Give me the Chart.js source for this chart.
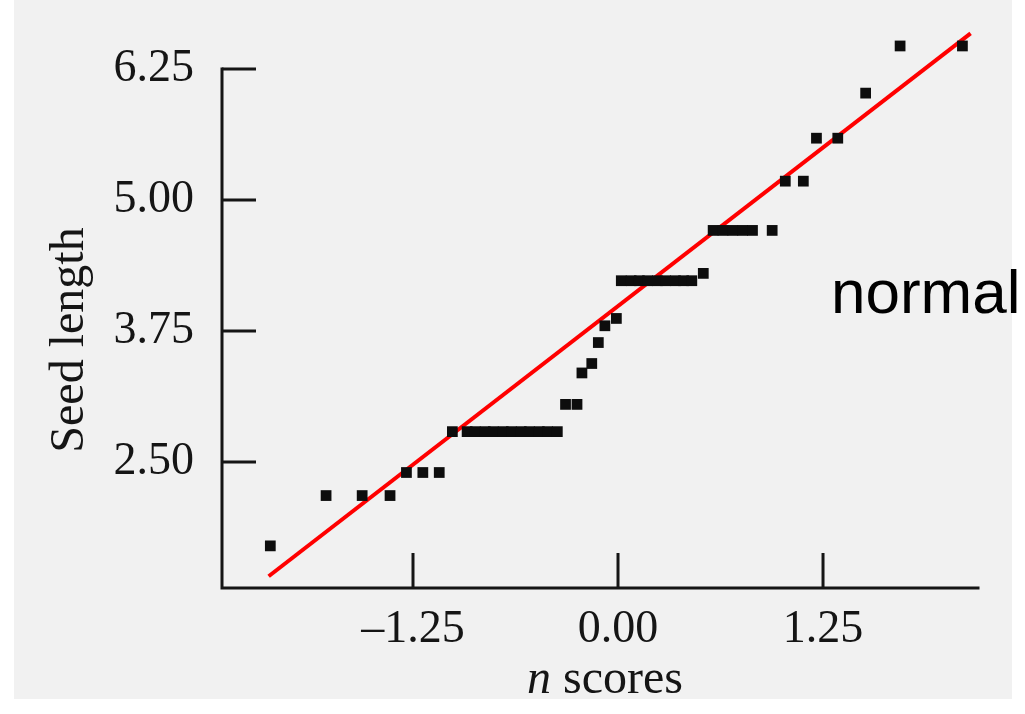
<!DOCTYPE html>
<html><head><meta charset="utf-8">
<script src="https://cdn.jsdelivr.net/npm/chart.js@4.4.1/dist/chart.umd.min.js"></script>
<style>html,body{margin:0;padding:0;background:#fff;}canvas{display:block;}</style>
</head><body>
<canvas id="c" width="1025" height="714"></canvas>
<script>
// ---- data ----
const nScores = [-2.12, -1.78, -1.56, -1.39, -1.29, -1.19, -1.09,
  -1.01, -0.92, -0.87, -0.81, -0.76, -0.70, -0.65, -0.59, -0.54, -0.48, -0.43, -0.37,
  -0.32, -0.25, -0.22, -0.16, -0.12, -0.08, -0.01,
  0.02, 0.08, 0.13, 0.18, 0.24, 0.29, 0.35, 0.40, 0.45, 0.52,
  0.58, 0.64, 0.70, 0.76, 0.82, 0.94,
  1.02, 1.13, 1.21, 1.34, 1.51, 1.72, 2.10];
const seedLength = [1.70, 2.18, 2.18, 2.18, 2.40, 2.40, 2.40,
  2.79, 2.79, 2.79, 2.79, 2.79, 2.79, 2.79, 2.79, 2.79, 2.79, 2.79, 2.79,
  3.05, 3.05, 3.35, 3.44, 3.64, 3.80, 3.87,
  4.23, 4.23, 4.23, 4.23, 4.23, 4.23, 4.23, 4.23, 4.23, 4.30,
  4.71, 4.71, 4.71, 4.71, 4.71, 4.71,
  5.18, 5.18, 5.59, 5.59, 6.02, 6.47, 6.47];
const fitLineX = [-2.13, 2.15];
const fitLineY = [1.41, 6.59];
const yTickValues = [2.50, 3.75, 5.00, 6.25];
const xTickValues = [-1.25, 0.00, 1.25];
const yTitle = 'Seed length';
const xTitleItalic = 'n';
const xTitleRest = ' scores';
const noteText = 'normal';

const INK = '#151515';
const SERIF = '"Liberation Serif", "Times New Roman", serif';

const fmt = v => (v < 0 ? '\u2013' : '') + Math.abs(v).toFixed(2);

const decor = {
  id: 'decor',
  beforeDraw(chart) {
    const ctx = chart.ctx;
    ctx.save();
    ctx.fillStyle = '#ffffff';
    ctx.fillRect(0, 0, chart.width, chart.height);
    ctx.fillStyle = '#f1f1f1';
    ctx.fillRect(14, 0, 998, 699);
    ctx.restore();
  },
  afterDraw(chart) {
    const ctx = chart.ctx;
    const xs = chart.scales.x, ys = chart.scales.y;
    const L = xs.getPixelForValue(xs.min), R = xs.getPixelForValue(xs.max);
    const B = ys.getPixelForValue(ys.min);
    const T = ys.getPixelForValue(yTickValues[yTickValues.length - 1]);
    ctx.save();
    ctx.strokeStyle = INK;
    ctx.lineWidth = 3;
    ctx.lineCap = 'square';
    ctx.beginPath();
    ctx.moveTo(L, T); ctx.lineTo(L, B); ctx.lineTo(R, B);
    ctx.stroke();
    ctx.lineCap = 'butt';
    yTickValues.forEach(v => {
      const p = ys.getPixelForValue(v);
      ctx.beginPath(); ctx.moveTo(L, p); ctx.lineTo(L + 34, p); ctx.stroke();
    });
    xTickValues.forEach(v => {
      const p = xs.getPixelForValue(v);
      ctx.beginPath(); ctx.moveTo(p, B); ctx.lineTo(p, B - 35); ctx.stroke();
    });
    // axis titles
    ctx.fillStyle = INK;
    ctx.save();
    ctx.translate(70, 340);
    ctx.rotate(-Math.PI / 2);
    ctx.font = '48px ' + SERIF;
    ctx.textAlign = 'center';
    ctx.textBaseline = 'middle';
    ctx.fillText(yTitle, 0, 0);
    ctx.restore();
    ctx.textBaseline = 'alphabetic';
    ctx.textAlign = 'left';
    ctx.font = 'italic 48px ' + SERIF;
    const w1 = ctx.measureText(xTitleItalic).width;
    ctx.font = '48px ' + SERIF;
    const w2 = ctx.measureText(xTitleRest).width;
    const x0 = 605 - (w1 + w2) / 2;
    ctx.font = 'italic 48px ' + SERIF;
    ctx.fillText(xTitleItalic, x0, 693);
    ctx.font = '48px ' + SERIF;
    ctx.fillText(xTitleRest, x0 + w1, 693);
    // overlaid note
    ctx.fillStyle = '#000000';
    ctx.font = '62px "Liberation Sans", Arial, sans-serif';
    ctx.fillText(noteText, 831, 313);
    ctx.restore();
  }
};

new Chart(document.getElementById('c'), {
  type: 'scatter',
  data: {
    datasets: [
      {
        label: 'Seed length',
        data: nScores.map((x, i) => ({ x: x, y: seedLength[i] })),
        pointStyle: 'rect',
        pointRadius: 7.6,
        pointBackgroundColor: '#0d0d0d',
        pointBorderWidth: 0,
        showLine: false
      },
      {
        label: 'normal',
        data: fitLineX.map((x, i) => ({ x: x, y: fitLineY[i] })),
        showLine: true,
        borderColor: '#ff0000',
        borderWidth: 4,
        pointRadius: 0,
        borderCapStyle: 'butt',
        clip: false
      }
    ]
  },
  options: {
    responsive: false,
    animation: false,
    devicePixelRatio: 1,
    layout: { padding: { top: 25, right: 47, left: 0, bottom: 0 } },
    plugins: { legend: { display: false }, tooltip: { enabled: false } },
    scales: {
      x: {
        type: 'linear',
        min: -2.4146, max: 2.195,
        grid: { display: false, drawTicks: false },
        border: { display: false },
        afterBuildTicks: s => { s.ticks = xTickValues.map(v => ({ value: v })); },
        afterFit: s => { s.height = 126; s.paddingLeft = 0; s.paddingRight = 0; },
        ticks: {
          autoSkip: false, maxRotation: 0, padding: 14, color: INK,
          font: { family: SERIF, size: 46 },
          callback: v => fmt(v)
        }
      },
      y: {
        type: 'linear',
        min: 1.298, max: 6.67,
        grid: { display: false, drawTicks: false },
        border: { display: false },
        afterBuildTicks: s => { s.ticks = yTickValues.map(v => ({ value: v })); },
        afterFit: s => { s.width = 222; s.paddingTop = 0; s.paddingBottom = 0; },
        ticks: {
          autoSkip: false, padding: 28, color: INK,
          font: { family: SERIF, size: 46 },
          callback: v => fmt(v)
        }
      }
    }
  },
  plugins: [decor]
});
</script>
</body></html>
